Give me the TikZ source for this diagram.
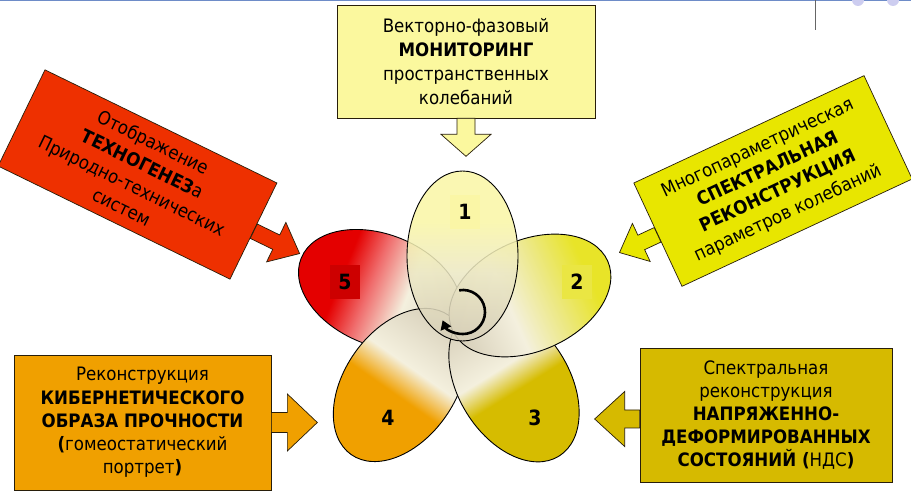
\documentclass[tikz,border=0pt]{standalone}
\usepackage{fontspec}
\setmainfont{DejaVu Sans Condensed}
\usetikzlibrary{arrows.meta}
\definecolor{cTop}{RGB}{251,248,158}
\definecolor{cRed}{RGB}{238,48,0}
\definecolor{cYel}{RGB}{232,230,0}
\definecolor{cOra}{RGB}{240,160,0}
\definecolor{cDYel}{RGB}{214,186,0}
\definecolor{cEdge}{RGB}{40,30,10}
\definecolor{pBeige}{RGB}{214,206,184}
\definecolor{pLight}{RGB}{244,240,222}
\definecolor{pOneA}{RGB}{236,232,196}
\definecolor{pOne}{RGB}{250,246,166}
\definecolor{pTwoA}{RGB}{236,232,130}
\definecolor{pTwo}{RGB}{232,228,40}
\definecolor{pThr}{RGB}{214,188,0}
\definecolor{pFou}{RGB}{240,160,0}
\definecolor{pFivA}{RGB}{240,110,110}
\definecolor{pFiv}{RGB}{228,0,0}
\definecolor{cBlueLine}{RGB}{110,140,200}
\definecolor{cDot}{RGB}{205,205,240}
\pgfdeclareverticalshading{petOne}{100bp}{color(0bp)=(pBeige); color(25bp)=(pBeige); color(45bp)=(pOneA); color(60bp)=(pOne); color(100bp)=(pOne)}
\pgfdeclareverticalshading{petTwo}{100bp}{color(0bp)=(pBeige); color(25bp)=(pBeige); color(43bp)=(pLight); color(56bp)=(pTwoA); color(68bp)=(pTwo); color(100bp)=(pTwo)}
\pgfdeclareverticalshading{petThr}{100bp}{color(0bp)=(pBeige); color(25bp)=(pBeige); color(44bp)=(pLight); color(52bp)=(pThr); color(100bp)=(pThr)}
\pgfdeclareverticalshading{petFou}{100bp}{color(0bp)=(pBeige); color(25bp)=(pBeige); color(44bp)=(pLight); color(53bp)=(pFou); color(100bp)=(pFou)}
\pgfdeclareverticalshading{petFiv}{100bp}{color(0bp)=(pBeige); color(25bp)=(pBeige); color(42bp)=(pLight); color(53bp)=(pFivA); color(62bp)=(pFiv); color(100bp)=(pFiv)}
\begin{document}
\begin{tikzpicture}[x=1pt,y=1pt,
  bx/.style={draw=cEdge, line width=0.7pt, align=center, inner sep=0pt, font=\fontsize{18.5}{24}\selectfont},
  ar/.style={draw=cEdge, line width=0.7pt, line join=miter},
  petal/.style={draw=black, line width=0.9pt},
  num/.style={font=\fontsize{21}{21}\selectfont\bfseries, minimum width=30, minimum height=34, inner sep=0pt}]
\useasboundingbox[fill=white] (0,0) rectangle (911,492);
% top fragments
\draw[cBlueLine, line width=1.2pt] (0,491.4) -- (911,491.4);
\draw[black!60, line width=0.8pt] (815,492) -- (815,462);
\fill[cDot] (858,492) circle (6);
\fill[cDot] (893,492) circle (6);

% petals
\begin{scope}[transform canvas={shift={(380,202)}, rotate=68}]
  \shade[petal, shading=petFiv] (0,0) ellipse [x radius=55.5, y radius=85];
\end{scope}
\begin{scope}[transform canvas={shift={(400,107)}, rotate=145}]
  \shade[petal, shading=petFou] (0,0) ellipse [x radius=55.5, y radius=85];
\end{scope}
\begin{scope}[transform canvas={shift={(514,108)}, rotate=-148}]
  \shade[petal, shading=petThr] (0,0) ellipse [x radius=55.5, y radius=85];
\end{scope}
\begin{scope}[transform canvas={shift={(530,196.5)}, rotate=-66}]
  \shade[petal, shading=petTwo] (0,0) ellipse [x radius=55.5, y radius=85];
\end{scope}
\begin{scope}[transform canvas={shift={(462.5,236)}}]
  \shade[petal, shading=petOne, fill opacity=0.86] (0,0) ellipse [x radius=55.5, y radius=85];
\end{scope}

% petal numbers
\node[num, fill=pOne] (n1) at (465,280) {1};
\node[num, fill=pTwo!85!pLight] (n2) at (577,210) {2};
\node[num] (n3) at (535,74) {3};
\node[num] (n4) at (388,74) {4};
\node[num, fill=pFiv!90!black] (n5) at (345,210) {5};

% rotation arrow
\coordinate (fc) at (463,180);
\draw[line width=2.6pt, -{Triangle[length=9pt,width=11pt]}] ([shift={(100:22)}]fc) arc[start angle=100, end angle=-158, radius=22];

% top box
\node[bx, fill=cTop, minimum width=258, minimum height=113] (mon) at (466,430.5)
  {Векторно-фазовый\\\textbf{МОНИТОРИНГ}\\пространственных\\колебаний};
\begin{scope}[shift={(mon.south)}]
  \path[ar, fill=cTop] (-9,0) -- (-9,-16) -- (-25,-16) -- (0,-38) -- (25,-16) -- (9,-16) -- (9,0) -- cycle;
\end{scope}

% red box
\node[bx, fill=cRed, rotate=-26, minimum width=258, minimum height=107] (tech) at (137.5,317.5)
  {Отображение\\\textbf{ТЕХНОГЕНЕЗ}а\\Природно-технических\\систем};
\begin{scope}[shift={(tech.east)}, rotate=-26]
  \path[ar, fill=cRed] (0,8) -- (25,8) -- (25,22) -- (51,0) -- (25,-22) -- (25,-8) -- (0,-8) -- cycle;
\end{scope}

% yellow box
\node[bx, fill=cYel, rotate=25, minimum width=254, minimum height=114] (spec) at (773,311)
  {Многопараметрическая\\\textbf{СПЕКТРАЛЬНАЯ}\\\textbf{РЕКОНСТРУКЦИЯ}\\параметров колебаний};
\begin{scope}[shift={(spec.west)}, rotate=25]
  \path[ar, fill=cYel] (0,8) -- (-18,8) -- (-18,21) -- (-42,0) -- (-18,-21) -- (-18,-8) -- (0,-8) -- cycle;
\end{scope}

% bottom left box
\node[bx, fill=cOra, minimum width=257, minimum height=135, font=\fontsize{18.5}{23.2}\selectfont] (cyb) at (142.5,69.5)
  {Реконструкция\\\textbf{КИБЕРНЕТИЧЕСКОГО}\\\textbf{ОБРАЗА ПРОЧНОСТИ}\\\textbf{(}гомеостатический\\портрет\textbf{)}};
\begin{scope}[shift={(cyb.east)}]
  \path[ar, fill=cOra] (0,10) -- (16,10) -- (16,28.5) -- (46,0) -- (16,-28.5) -- (16,-10) -- (0,-10) -- cycle;
\end{scope}

% bottom right box
\node[bx, fill=cDYel, minimum width=252, minimum height=134, font=\fontsize{18.5}{23.2}\selectfont] (nds) at (766,77)
  {Спектральная\\реконструкция\\\textbf{НАПРЯЖЕННО-}\\\textbf{ДЕФОРМИРОВАННЫХ}\\\textbf{СОСТОЯНИЙ (}НДС\textbf{)}};
\begin{scope}[shift={([yshift=-4]nds.west)}]
  \path[ar, fill=cDYel] (0,9) -- (-15,9) -- (-15,27.5) -- (-45,0) -- (-15,-27.5) -- (-15,-9) -- (0,-9) -- cycle;
\end{scope}
\end{tikzpicture}
\end{document}
